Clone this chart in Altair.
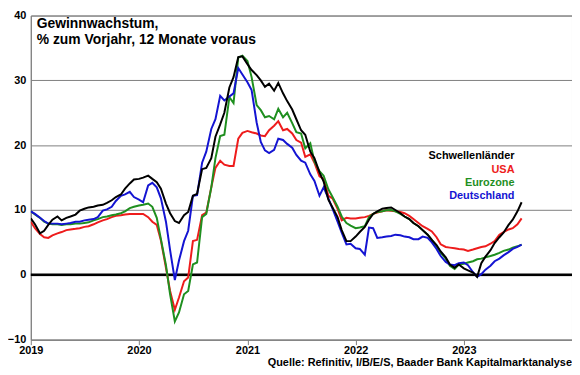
import altair as alt
import pandas as pd

# semi-monthly observation dates (1st and 15th), Jan 2019 - mid Jul 2023
dates = pd.date_range("2019-01-01", periods=110, freq="SMS").strftime("%Y-%m-%d").tolist()

schwellen = [
    8.7, 7.8, 6.4, 6.8, 7.7, 8.5, 9.0, 8.4, 8.8, 9.0,
    9.3, 9.9, 10.2, 10.4, 10.5, 10.7, 10.8, 11.1, 11.5, 12.0,
    12.4, 13.3, 14.1, 14.7, 14.8, 15.0, 15.3, 14.8, 14.3, 13.3,
    11.0, 9.5, 8.3, 8.0, 9.2, 9.7, 12.2, 12.5, 16.3, 16.5,
    18.0, 21.3, 23.2, 25.0, 28.9, 30.5, 33.6, 33.7, 32.5, 31.6,
    30.8, 30.0, 29.0, 29.5, 28.4, 29.6, 28.0, 26.8, 25.5, 24.0,
    22.3, 21.6, 19.0, 18.0, 15.8, 14.4, 11.6, 10.4, 8.9, 6.9,
    5.2, 5.2, 5.9, 6.6, 7.4, 8.5, 9.4, 9.8, 10.2, 10.3,
    10.4, 10.0, 9.5, 9.0, 8.6, 8.0, 7.5, 6.9, 6.2, 5.4,
    4.6, 3.6, 2.7, 1.6, 1.1, 1.6, 1.0, 0.7, 0.35, -0.3,
    1.8, 2.8, 3.8, 4.9, 5.8, 6.5, 7.7, 8.5, 9.8, 11.2,
]
usa = [
    8.2, 7.2, 6.3, 5.8, 5.7, 6.1, 6.4, 6.6, 6.9, 7.0,
    7.1, 7.2, 7.4, 7.5, 7.8, 8.1, 8.4, 8.6, 8.9, 9.1,
    9.2, 9.3, 9.4, 9.4, 9.4, 9.4, 8.9, 8.2, 7.7, 5.3,
    1.1, -2.5, -5.4, -3.5, -1.0, -0.4, 5.2, 5.4, 9.2, 9.6,
    13.5, 16.5, 17.6, 17.0, 16.8, 16.8, 21.0, 21.9, 22.2, 22.0,
    21.8, 21.5, 21.4, 22.3, 23.0, 23.7, 22.3, 22.5, 21.8, 20.8,
    20.4, 18.2, 18.6, 17.3, 15.2, 14.8, 12.2, 11.8, 10.2, 8.4,
    8.8, 8.7, 8.7, 8.8, 8.9, 9.1, 9.4, 9.6, 9.8, 9.95,
    9.9, 9.8, 9.7, 9.5, 9.1, 8.6, 8.0, 7.5, 7.1, 6.7,
    5.8, 4.7, 4.3, 4.2, 4.1, 4.0, 3.9, 3.7, 3.9, 4.1,
    4.3, 4.4, 4.8, 5.2, 6.2, 6.6, 7.0, 7.2, 7.8, 8.7,
]
eurozone = [
    9.8, 9.3, 8.8, 8.2, 7.9, 7.8, 7.8, 7.7, 7.8, 7.8,
    7.9, 7.9, 8.0, 8.1, 8.4, 8.6, 8.9, 9.0, 9.2, 9.3,
    9.5, 9.8, 10.3, 10.5, 10.7, 10.8, 11.0, 10.5, 8.8, 5.5,
    1.5, -3.0, -7.2, -5.8, -3.0, -2.5, 1.6, 1.9, 8.9, 9.4,
    13.5, 18.0, 21.4, 21.6, 27.4, 26.5, 33.5, 33.8, 33.0, 30.5,
    26.2, 25.4, 24.3, 24.5, 24.0, 25.6, 24.3, 25.0, 23.4, 22.0,
    21.8, 19.5, 20.3, 17.5, 16.0, 15.3, 13.2, 12.0, 10.5, 9.0,
    8.0, 7.6, 7.2, 7.3, 7.5, 8.9, 9.4, 9.7, 9.8, 9.95,
    10.0, 9.8, 9.4, 9.0, 8.6, 8.0, 7.5, 6.9, 6.2, 5.4,
    4.4, 3.4, 2.5, 1.4, 0.9, 1.6, 1.7, 1.9, 2.1, 2.4,
    2.5, 2.7, 2.9, 3.1, 3.4, 3.7, 3.9, 4.2, 4.4, 4.65,
]
deutschland = [
    9.8, 9.4, 8.8, 8.3, 7.9, 7.9, 7.9, 7.8, 7.9, 8.0,
    8.2, 8.2, 8.4, 8.5, 8.6, 8.9, 9.9, 10.1, 10.5, 11.4,
    12.2, 12.4, 12.8, 12.0, 11.6, 11.2, 13.8, 14.2, 13.5, 11.8,
    8.2, 3.8, -0.8, 2.2, 5.2, 6.8, 12.2, 12.3, 17.3, 19.0,
    22.5, 24.0, 27.6, 26.9, 27.5, 28.0, 31.9, 30.9, 29.7, 28.5,
    23.5, 20.5, 19.2, 18.8, 19.3, 21.0, 20.8, 20.2, 19.6, 18.5,
    17.6, 17.3, 15.5, 14.5, 12.2, 13.5, 11.8, 10.2, 8.2, 6.5,
    4.7, 4.8, 4.1, 4.0, 3.1, 7.3, 7.2, 5.7, 5.8, 5.9,
    6.0, 6.2, 6.1, 5.9, 5.8, 5.5, 5.5, 5.9, 5.7, 5.0,
    4.0, 2.9, 2.0, 1.6, 1.5, 1.8, 1.9, 1.5, 0.4, -0.3,
    0.1, 0.8, 1.4, 2.1, 2.5, 3.0, 3.5, 4.0, 4.3, 4.65,
]

series_names = ["Schwellenländer", "USA", "Eurozone", "Deutschland"]
series_colors = ["#000000", "#ee1c1c", "#1f8f1f", "#1414d2"]
year_ticks = [2019, 2020, 2021, 2022, 2023]
y_ticks = [-10, 0, 10, 20, 30, 40]

title_lines = ["Gewinnwachstum,", "% zum Vorjahr, 12 Monate voraus"]
source_text = "Quelle: Refinitiv, I/B/E/S, Baader Bank Kapitalmarktanalyse"

FONT = "Liberation Sans"
GRAY = "#808080"

x_scale = alt.Scale(
    type="utc",
    domain=[alt.DateTime(year=2019, month=1, date=1, utc=True),
            alt.DateTime(year=2024, month=1, date=1, utc=True)],
)
y_scale = alt.Scale(domain=[-10, 40], nice=False, zero=False)

x_axis = alt.Axis(
    values=[alt.DateTime(year=y, month=1, date=1, utc=True) for y in year_ticks],
    format="%Y", grid=False, title=None, tickSize=5, tickColor=GRAY,
    domainColor=GRAY, labelPadding=0, labelFont=FONT, labelFontWeight="bold",
    labelFontSize=11, labelColor="black", labelFlush=False,
)
y_axis = alt.Axis(
    values=y_ticks, title=None, grid=True, gridColor=GRAY, gridWidth=1,
    ticks=False, domainColor=GRAY, labelPadding=5, labelFont=FONT,
    labelFontWeight="bold", labelFontSize=11, labelColor="black",
)

series_values = {
    "Schwellenländer": schwellen,
    "USA": usa,
    "Eurozone": eurozone,
    "Deutschland": deutschland,
}

zero_rule = alt.Chart(pd.DataFrame({"value": [0]})).mark_rule(
    color="black", strokeWidth=2.5
).encode(y=alt.Y("value:Q", scale=y_scale, axis=y_axis))

layers = [zero_rule]
for name in ["USA", "Eurozone", "Deutschland", "Schwellenländer"]:
    col = series_colors[series_names.index(name)]
    df = pd.DataFrame({"date": dates, "value": series_values[name]})
    layers.append(
        alt.Chart(df).mark_line(color=col, strokeWidth=2, clip=True).encode(
            x=alt.X("date:T", scale=x_scale, axis=x_axis),
            y=alt.Y("value:Q", scale=y_scale, axis=y_axis),
        )
    )

# title inside the plot
title_df = pd.DataFrame({"t": title_lines, "yy": [13, 29]})
title_layer = alt.Chart(title_df).mark_text(
    align="left", baseline="alphabetic", font=FONT, fontSize=14,
    fontWeight="bold", color="black",
).encode(x=alt.value(6), y=alt.Y("yy:Q", scale=None), text="t:N")

# legend as coloured text
legend_df = pd.DataFrame({
    "name": series_names,
    "yy": [145, 158.5, 172, 185.5],
    "col": series_colors,
})
legend_layer = alt.Chart(legend_df).mark_text(
    align="right", baseline="alphabetic", font=FONT, fontSize=11,
    fontWeight="bold",
).encode(
    x=alt.value(488), y=alt.Y("yy:Q", scale=None), text="name:N",
    color=alt.Color("col:N", scale=None),
)

source_layer = alt.Chart(pd.DataFrame({"t": [source_text]})).mark_text(
    align="right", baseline="alphabetic", font=FONT,
    fontSize=11, fontWeight="bold", color="black",
).encode(x=alt.value(546), y=alt.value(354), text="t:N")

layers += [title_layer, legend_layer, source_layer]

chart = alt.layer(*layers).properties(
    width=546, height=327,
    autosize=alt.AutoSizeParams(type="none"),
    padding={"left": 23, "top": 6, "right": 0, "bottom": 29},
    background="white",
).configure_view(stroke=GRAY, strokeWidth=1)

chart.save("out.html", embed_options={"renderer": "svg", "actions": False})
